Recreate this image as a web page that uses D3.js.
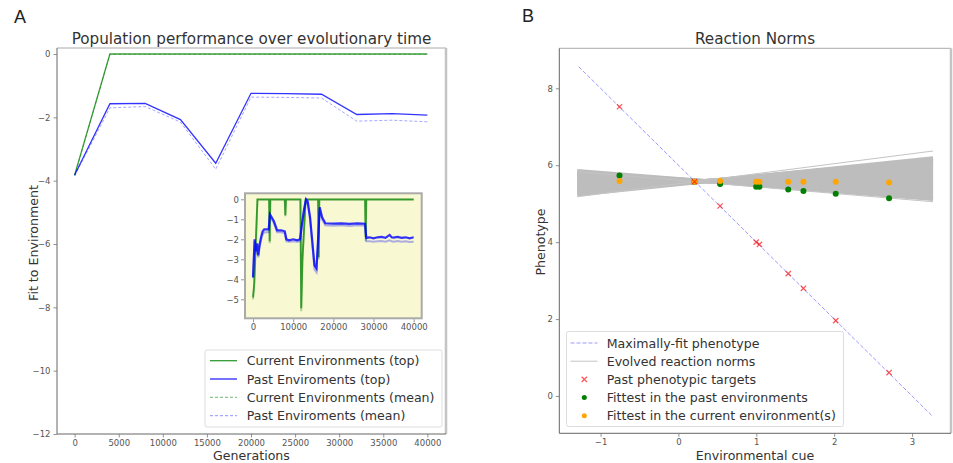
<!DOCTYPE html>
<html>
<head>
<meta charset="utf-8">
<script src="https://cdn.jsdelivr.net/npm/d3@7"></script>
<style>
  body { margin: 0; background: #fff; }
  text { font-family: "DejaVu Sans", sans-serif; }
</style>
</head>
<body>
<div id="chart"></div>
<script>
// ---- panel A data (generations / fit) ----
var mainGens = [0, 4000, 8000, 12000, 16000, 20000, 24000, 28000, 32000, 36000, 40000];
var currentTop = [-3.82, 0, 0, 0, 0, 0, 0, 0, 0, 0, 0];
var pastTop = [-3.82, -1.57, -1.56, -2.07, -3.45, -1.24, -1.25, -1.27, -1.91, -1.88, -1.93];
var currentMean = [-3.85, -0.01, -0.01, -0.01, -0.01, -0.01, -0.01, -0.01, -0.01, -0.01, -0.01];
var pastMean = [-3.85, -1.7, -1.66, -2.15, -3.64, -1.36, -1.37, -1.39, -2.12, -2.09, -2.14];

// inset (full resolution run)
var insetGreenGens = [0, 300, 1100, 4000, 4150, 4300, 7900, 8050, 8200, 11800, 12000, 12300, 13100, 16200, 16350, 16500, 27900, 28050, 28200, 40000];
var insetCurrentTop = [-4.9, -4.2, 0, 0, -2.1, 0, 0, -0.8, 0, 0, -5.45, -3.0, 0, 0, -2.9, 0, 0, -1.9, 0, 0];
var insetCurrentMean = [-5.0, -4.3, -0.02, -0.02, -2.2, -0.02, -0.02, -0.85, -0.02, -0.02, -5.6, -3.1, -0.02, -0.02, -3.0, -0.02, -0.02, -2.1, -0.02, -0.02];
var insetBlueGens = [0, 400, 700, 1000, 1300, 1600, 2000, 2400, 2800, 3300, 3900, 4200, 4500, 5200, 6000, 7000, 7900, 8300, 9000, 10000,
  11000, 11700, 12200, 12700, 13200, 13600, 14200, 14800, 15300, 15800, 16200, 16600, 17200, 18000, 20000, 22000, 24000, 26000, 27900, 28200,
  29000, 30000, 31000, 32000, 33000, 34000, 34500, 35000, 36000, 37000, 38000, 39000, 40000];
var insetPastTop = [-3.9, -2.0, -2.6, -2.2, -2.8, -2.3, -1.9, -1.6, -1.5, -1.5, -1.5, -0.75, -0.85, -1.1, -1.55, -1.55, -1.6, -2.0, -2.05, -2.0,
  -2.05, -2.0, -1.2, -0.5, 0, -0.1, -0.9, -2.2, -3.3, -3.45, -2.0, -0.4, -0.9, -1.2, -1.22, -1.2, -1.23, -1.2, -1.22, -1.93,
  -1.9, -1.95, -1.9, -1.88, -1.93, -1.78, -1.9, -1.92, -1.88, -1.93, -1.9, -1.95, -1.9];
var insetPastMean = [-3.95, -2.1, -2.75, -2.35, -2.9, -2.45, -2.05, -1.75, -1.65, -1.65, -1.65, -0.85, -0.95, -1.2, -1.65, -1.65, -1.7, -2.1, -2.12, -2.1,
  -2.12, -2.1, -1.3, -0.6, -0.1, -0.2, -1.0, -2.35, -3.5, -3.65, -2.2, -0.5, -1.0, -1.3, -1.32, -1.3, -1.33, -1.3, -1.32, -2.1,
  -2.1, -2.12, -2.1, -2.08, -2.12, -2.05, -2.1, -2.12, -2.08, -2.12, -2.1, -2.13, -2.12];

var legendA = ["Current Environments (top)", "Past Enviroments (top)", "Current Environments (mean)", "Past Enviroments (mean)"];

// ---- panel B data (reaction norms) ----
var fitCues = [-1.28, 3.27];
var fitPheno = [8.56, -0.54];
var normCues = [-1.3, 3.27];
var normStart = [5.85, 5.81, 5.77, 5.73, 5.69, 5.65, 5.61, 5.58, 5.54, 5.5, 5.46, 5.42, 5.38, 5.34, 5.3, 5.27, 5.24];
var normEnd = [5.12, 5.19, 5.26, 5.33, 5.4, 5.47, 5.54, 5.61, 5.68, 5.75, 5.82, 5.89, 5.96, 6.03, 6.1, 6.15, 6.18];
var outlierStart = [5.18, 5.83];
var outlierEnd = [6.37, 5.05];
var envCues = [-0.757, 0.206, 0.535, 0.998, 1.04, 1.41, 1.605, 2.02, 2.705];
var pastTargets = [7.52, 5.57, 4.94, 4.0, 3.94, 3.18, 2.8, 1.96, 0.61];
var fittestPast = [5.73, 5.57, 5.51, 5.44, 5.44, 5.37, 5.33, 5.26, 5.14];
var fittestCurrent = [5.59, 5.57, 5.59, 5.57, 5.57, 5.57, 5.57, 5.57, 5.55];

var legendB = ["Maximally-fit phenotype", "Evolved reaction norms", "Past phenotypic targets",
  "Fittest in the past environments", "Fittest in the current environment(s)"];

var W = 953, H = 463;
var svg = d3.select("#chart").append("svg").attr("width", W).attr("height", H);
var intFmt = d3.format("d");

function styleAxis(g) {
  g.select(".domain").remove();
  g.selectAll(".tick line").attr("stroke", "#777").attr("stroke-width", 0.8);
  g.selectAll(".tick text").attr("fill", "#555").style("font-size", "8.5px");
}

function frame(x0, y0, x1, y1) {
  svg.append("line").attr("x1", x0).attr("x2", x1).attr("y1", y0).attr("y2", y0).attr("stroke", "#aaa").attr("stroke-width", 1);
  svg.append("line").attr("x1", x1).attr("x2", x1).attr("y1", y0).attr("y2", y1).attr("stroke", "#c4c4c4").attr("stroke-width", 2.5);
  svg.append("line").attr("x1", x0).attr("x2", x0).attr("y1", y0).attr("y2", y1).attr("stroke", "#666").attr("stroke-width", 1);
  svg.append("line").attr("x1", x0).attr("x2", x1).attr("y1", y1).attr("y2", y1).attr("stroke", "#666").attr("stroke-width", 1);
}

function lineOf(xs, ys, xScale, yScale) {
  return d3.line().x(function(d, i) { return xScale(xs[i]); }).y(function(d) { return yScale(d); })(ys);
}

// ================= Panel A =================
var xA = d3.scaleLinear().domain([-2000, 42000]).range([57, 445]);
var yA = d3.scaleLinear().domain([-12, 0.19]).range([434, 48]);

svg.append("path").attr("d", lineOf(mainGens, currentMean, xA, yA))
   .attr("fill", "none").attr("stroke", "green").attr("stroke-opacity", 0.4).attr("stroke-dasharray", "3,2").attr("stroke-width", 1);
svg.append("path").attr("d", lineOf(mainGens, pastMean, xA, yA))
   .attr("fill", "none").attr("stroke", "blue").attr("stroke-opacity", 0.35).attr("stroke-dasharray", "3,2").attr("stroke-width", 1);
svg.append("path").attr("d", lineOf(mainGens, currentTop, xA, yA))
   .attr("fill", "none").attr("stroke", "green").attr("stroke-opacity", 0.75).attr("stroke-width", 1.3);
svg.append("path").attr("d", lineOf(mainGens, pastTop, xA, yA))
   .attr("fill", "none").attr("stroke", "blue").attr("stroke-opacity", 0.8).attr("stroke-width", 1.3);

frame(57, 48, 446, 434);

svg.append("g").attr("transform", "translate(57,0)")
   .call(d3.axisLeft(yA).tickValues([0, -2, -4, -6, -8, -10, -12]).tickFormat(intFmt).tickSize(3.5).tickPadding(3))
   .call(styleAxis);
svg.append("g").attr("transform", "translate(0,434)")
   .call(d3.axisBottom(xA).tickValues(d3.range(0, 40001, 5000)).tickFormat(intFmt).tickSize(3.5).tickPadding(2))
   .call(styleAxis);

svg.append("text").attr("x", 251.5).attr("y", 44).attr("text-anchor", "middle")
   .style("font-size", "15.2px").attr("fill", "#333").text("Population performance over evolutionary time");
svg.append("text").attr("x", 251.5).attr("y", 460).attr("text-anchor", "middle")
   .style("font-size", "12.6px").attr("fill", "#333").text("Generations");
svg.append("text").attr("transform", "translate(38,243) rotate(-90)").attr("text-anchor", "middle")
   .style("font-size", "12.6px").attr("fill", "#333").text("Fit to Environment");
svg.append("text").attr("x", 14).attr("y", 23)
   .style("font-size", "18px").style("font-family", "Liberation Sans, Arial, sans-serif").attr("fill", "#222").text("A");

// inset
var xI = d3.scaleLinear().domain([-2000, 42000]).range([245, 421.7]);
var yI = d3.scaleLinear().domain([-5.95, 0.3]).range([318.3, 193.3]);
svg.append("rect").attr("x", 245).attr("y", 193.3).attr("width", 176.7).attr("height", 125)
   .attr("fill", "#f8f8d2").attr("stroke", "#aaa").attr("stroke-width", 2);
svg.append("path").attr("d", lineOf(insetGreenGens, insetCurrentMean, xI, yI))
   .attr("fill", "none").attr("stroke", "green").attr("stroke-opacity", 0.3).attr("stroke-width", 2);
svg.append("path").attr("d", lineOf(insetGreenGens, insetCurrentTop, xI, yI))
   .attr("fill", "none").attr("stroke", "green").attr("stroke-opacity", 0.7).attr("stroke-width", 1.8);
svg.append("path").attr("d", lineOf(insetBlueGens, insetPastMean, xI, yI))
   .attr("fill", "none").attr("stroke", "blue").attr("stroke-opacity", 0.3).attr("stroke-width", 2);
svg.append("path").attr("d", lineOf(insetBlueGens, insetPastTop, xI, yI))
   .attr("fill", "none").attr("stroke", "blue").attr("stroke-opacity", 0.8).attr("stroke-width", 2.2);
svg.append("g").attr("transform", "translate(244,0)")
   .call(d3.axisLeft(yI).tickValues([0, -1, -2, -3, -4, -5]).tickFormat(intFmt).tickSize(3).tickPadding(2))
   .call(styleAxis);
svg.append("g").attr("transform", "translate(0,319.3)")
   .call(d3.axisBottom(xI).tickValues([0, 10000, 20000, 30000, 40000]).tickFormat(intFmt).tickSize(3).tickPadding(2))
   .call(styleAxis);

// legend A
var legA = svg.append("g").attr("transform", "translate(205,350)");
legA.append("rect").attr("width", 237).attr("height", 77).attr("rx", 2)
    .attr("fill", "#fff").attr("fill-opacity", 0.85).attr("stroke", "#ddd");
var legAStyles = [
  { color: "green", op: 0.8, dash: null },
  { color: "blue", op: 0.85, dash: null },
  { color: "green", op: 0.45, dash: "3,2" },
  { color: "blue", op: 0.35, dash: "3,2" }
];
legendA.forEach(function(label, i) {
  var yy = 10.7 + i * 18.3;
  legA.append("line").attr("x1", 5).attr("x2", 32).attr("y1", yy).attr("y2", yy)
      .attr("stroke", legAStyles[i].color).attr("stroke-opacity", legAStyles[i].op)
      .attr("stroke-dasharray", legAStyles[i].dash).attr("stroke-width", 1.3);
  legA.append("text").attr("x", 41.7).attr("y", yy + 4.5).style("font-size", "12.6px").attr("fill", "#333").text(label);
});

// ================= Panel B =================
var xB = d3.scaleLinear().domain([-1.53, 3.5]).range([559.3, 951]);
var yB = d3.scaleLinear().domain([-0.97, 9.04]).range([433.3, 48.3]);

normStart.forEach(function(s, i) {
  svg.append("path").attr("d", lineOf(normCues, [s, normEnd[i]], xB, yB))
     .attr("fill", "none").attr("stroke", "#bdbdbd").attr("stroke-width", 4);
});
outlierStart.forEach(function(s, i) {
  svg.append("path").attr("d", lineOf(normCues, [s, outlierEnd[i]], xB, yB))
     .attr("fill", "none").attr("stroke", "#c4c4c4").attr("stroke-width", 1);
});
svg.append("path").attr("d", lineOf(fitCues, fitPheno, xB, yB))
   .attr("fill", "none").attr("stroke", "blue").attr("stroke-opacity", 0.4)
   .attr("stroke-dasharray", "4,2").attr("stroke-width", 1);

svg.selectAll(".past").data(fittestPast).enter().append("circle")
   .attr("cx", function(d, i) { return xB(envCues[i]); }).attr("cy", function(d) { return yB(d); })
   .attr("r", 3).attr("fill", "green");
svg.selectAll(".cur").data(fittestCurrent).enter().append("circle")
   .attr("cx", function(d, i) { return xB(envCues[i]); }).attr("cy", function(d) { return yB(d); })
   .attr("r", 3).attr("fill", "orange");
var xMark = d3.symbol().type(d3.symbolX).size(20);
svg.selectAll(".tgt").data(pastTargets).enter().append("path")
   .attr("d", xMark)
   .attr("transform", function(d, i) { return "translate(" + xB(envCues[i]) + "," + yB(d) + ")"; })
   .attr("fill", "none").attr("stroke", "red").attr("stroke-opacity", 0.65).attr("stroke-width", 1.3);

frame(559.3, 48.3, 951, 433.3);

svg.append("g").attr("transform", "translate(559.3,0)")
   .call(d3.axisLeft(yB).tickValues([0, 2, 4, 6, 8]).tickFormat(intFmt).tickSize(3.5).tickPadding(3))
   .call(styleAxis);
svg.append("g").attr("transform", "translate(0,433.3)")
   .call(d3.axisBottom(xB).tickValues([-1, 0, 1, 2, 3]).tickFormat(intFmt).tickSize(3.5).tickPadding(2))
   .call(styleAxis);

svg.append("text").attr("x", 755).attr("y", 44).attr("text-anchor", "middle")
   .style("font-size", "15.2px").attr("fill", "#333").text("Reaction Norms");
svg.append("text").attr("x", 755).attr("y", 460).attr("text-anchor", "middle")
   .style("font-size", "12.6px").attr("fill", "#333").text("Environmental cue");
svg.append("text").attr("transform", "translate(545,242) rotate(-90)").attr("text-anchor", "middle")
   .style("font-size", "12.6px").attr("fill", "#333").text("Phenotype");
svg.append("text").attr("x", 522).attr("y", 22)
   .style("font-size", "18px").style("font-family", "Liberation Sans, Arial, sans-serif").attr("fill", "#222").text("B");

// legend B
var legB = svg.append("g").attr("transform", "translate(566.5,331.5)");
legB.append("rect").attr("width", 277).attr("height", 95).attr("rx", 2)
    .attr("fill", "#fff").attr("fill-opacity", 0.85).attr("stroke", "#ddd");
legendB.forEach(function(label, i) {
  var yy = 11.5 + i * 18.2;
  if (i === 0) {
    legB.append("line").attr("x1", 4).attr("x2", 31).attr("y1", yy).attr("y2", yy)
        .attr("stroke", "blue").attr("stroke-opacity", 0.4).attr("stroke-dasharray", "4,2");
  } else if (i === 1) {
    legB.append("line").attr("x1", 4).attr("x2", 31).attr("y1", yy).attr("y2", yy)
        .attr("stroke", "#c4c4c4");
  } else if (i === 2) {
    legB.append("path").attr("d", xMark).attr("transform", "translate(17.8," + yy + ")")
        .attr("fill", "none").attr("stroke", "red").attr("stroke-opacity", 0.65).attr("stroke-width", 1.3);
  } else {
    legB.append("circle").attr("cx", 17.8).attr("cy", yy).attr("r", 2.5).attr("fill", i === 3 ? "green" : "orange");
  }
  legB.append("text").attr("x", 40.2).attr("y", yy + 4.5).style("font-size", "12.6px").attr("fill", "#333").text(label);
});
</script>
</body>
</html>
